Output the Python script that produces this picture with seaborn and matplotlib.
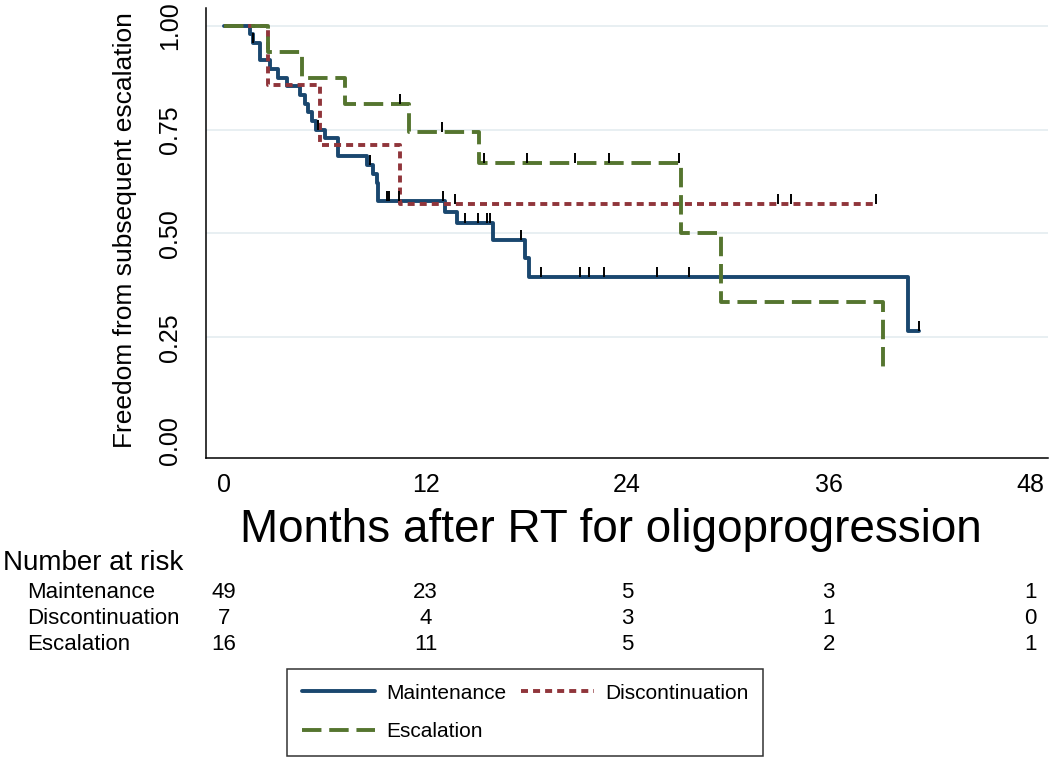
import numpy as np
import pandas as pd
import seaborn as sns
import matplotlib.pyplot as plt
from matplotlib.lines import Line2D
import matplotlib.transforms as mtransforms

sns.set_style("white")
plt.rcParams['font.family'] = ['Liberation Sans', 'DejaVu Sans']
plt.rcParams['text.color'] = 'black'
plt.rcParams['axes.labelcolor'] = 'black'
plt.rcParams['xtick.color'] = 'black'
plt.rcParams['ytick.color'] = 'black'

# Kaplan-Meier steps (months, survival after step)
maint_t = [0, 1.55, 1.7, 2.14, 2.74, 3.23, 3.73, 4.52, 4.82, 5.02, 5.22, 5.5, 6.0, 6.8,
           8.49, 8.85, 9.09, 9.19, 13.15, 13.85, 16.0, 17.9, 18.17, 40.7, 41.4]
maint_s = [1.0, 0.98, 0.959, 0.917, 0.896, 0.875, 0.854, 0.833, 0.812, 0.792, 0.771, 0.75,
           0.729, 0.686, 0.665, 0.643, 0.621, 0.577, 0.551, 0.525, 0.483, 0.44, 0.396,
           0.264, 0.264]
maint_cens = [1.75, 5.6, 8.69, 9.7, 9.8, 10.4, 13.05, 14.35, 15.14, 15.64, 15.83, 17.66,
              18.9, 21.2, 21.7, 22.6, 25.8, 27.7, 41.4]

disc_t = [0, 2.64, 5.71, 10.48, 38.8]
disc_s = [1.0, 0.857, 0.714, 0.571, 0.571]
disc_cens = [13.75, 32.96, 33.75, 38.8]

esc_t = [0, 2.64, 4.62, 7.2, 11.03, 15.2, 27.2, 29.6, 39.25]
esc_s = [1.0, 0.9375, 0.875, 0.8125, 0.745, 0.67, 0.5, 0.335, 0.168]
esc_cens = [10.5, 13.0, 15.5, 18.05, 20.9, 22.9, 27.1]

# number at risk
risk_months = [0, 12, 24, 36, 48]
risk_maint = [49, 23, 5, 3, 1]
risk_disc = [7, 4, 3, 1, 0]
risk_esc = [16, 11, 5, 2, 1]

groups = ["Maintenance", "Discontinuation", "Escalation"]
colors = ["#1a476f", "#90353b", "#55752f"]
styles = ["-", (0, (1.8, 1.3)), (0, (5.0, 2.0))]
LW = 2.8

fig = plt.figure(figsize=(10.5, 7.62), dpi=100)
ax = fig.add_axes([206/1050, 1-458/762, (1048-206)/1050, (458-8)/762])

for g in [0.25, 0.5, 0.75, 1.0]:
    ax.axhline(g, color="#e6eef1", lw=1.3, zorder=0)

data = [(maint_t, maint_s, maint_cens), (disc_t, disc_s, disc_cens), (esc_t, esc_s, esc_cens)]
handles = []
for (t, s, c), name, col, ls in zip(data, groups, colors, styles):
    df = pd.DataFrame({"t": t, "s": s})
    sns.lineplot(data=df, x="t", y="s", drawstyle="steps-post", color=col, lw=LW,
                 linestyle=ls, ax=ax, zorder=3)
    idx = np.searchsorted(t, c, side="right") - 1
    ax.plot(c, np.array(s)[idx], ls="none", marker=2, ms=7, mew=1.4, color="black", zorder=4)
    handles.append(Line2D([0], [0], color=col, lw=LW, linestyle=ls))

ax.set_xlim(-1.07, 49.05)
ax.set_ylim(-0.041, 1.043)
ax.set_xticks(risk_months)
ax.set_yticks([0, 0.25, 0.5, 0.75, 1.0])
ax.set_yticklabels(["0.00", "0.25", "0.50", "0.75", "1.00"], rotation=90, va="center")
ax.tick_params(direction="out", length=7, width=1.1, color="black", labelsize=18, pad=4)
ax.tick_params(axis="y", pad=10)
for sp in ["top", "right"]:
    ax.spines[sp].set_visible(False)
for sp in ["left", "bottom"]:
    ax.spines[sp].set_color("black")
    ax.spines[sp].set_linewidth(1.1)

ax.set_xlabel("Months after RT for oligoprogression", fontsize=33)
ax.xaxis.set_label_coords((611-206)/842, -(530-458)/450)
ax.xaxis.label.set_va("center")
ax.set_ylabel("Freedom from subsequent escalation", fontsize=19)
ax.yaxis.set_label_coords((125-206)/842, 1-(230-8)/450)
ax.yaxis.label.set_va("center")

# number at risk table
fig.text(3/1050, 1-563/762, "Number at risk", fontsize=20, va="center")
trans = mtransforms.blended_transform_factory(ax.transData, fig.transFigure)
for name, vals, ypx in zip(groups, [risk_maint, risk_disc, risk_esc], [592, 618, 645]):
    fig.text(27/1050, 1-ypx/762, name, fontsize=16, va="center")
    for m, v in zip(risk_months, vals):
        ax.text(m, 1-ypx/762, str(v), transform=trans, fontsize=16, ha="center", va="center")

order = [0, 2, 1]
leg = fig.legend([handles[i] for i in order], [groups[i] for i in order], ncol=2,
                 loc="upper left", bbox_to_anchor=(287/1050, 1-669/762), borderaxespad=0,
                 fontsize=15, frameon=True, fancybox=False, edgecolor="black",
                 handlelength=3.5, handletextpad=0.55, columnspacing=0.7, labelspacing=0.95,
                 borderpad=0.7)
leg.get_frame().set_linewidth(1.1)

fig.savefig("out.png", dpi=100)
